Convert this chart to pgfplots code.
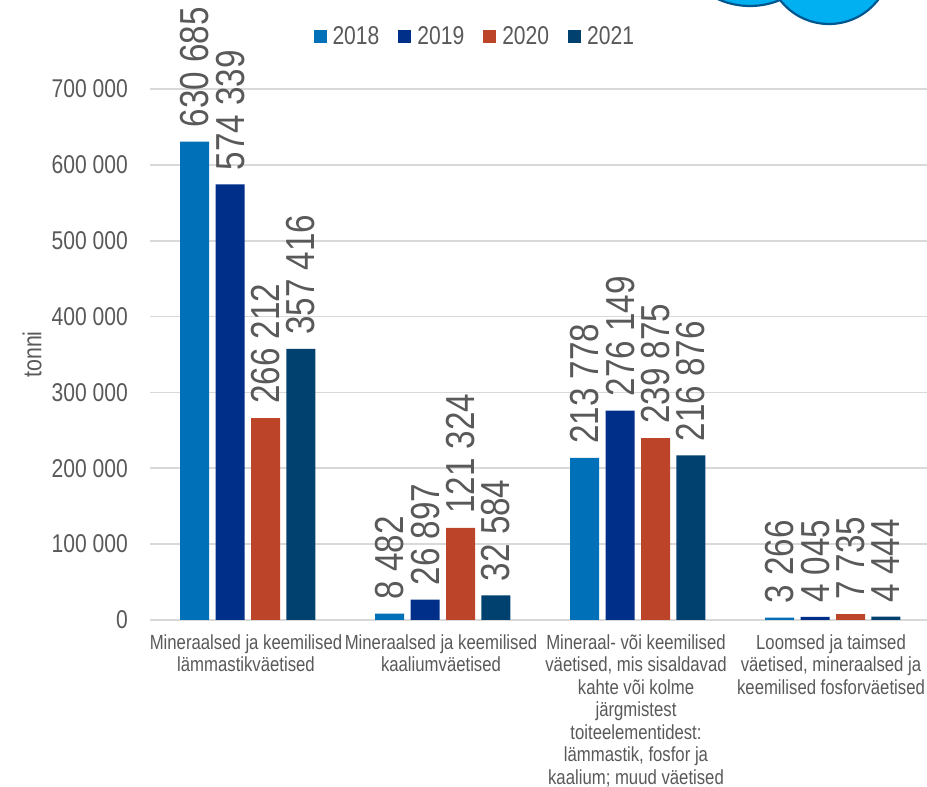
\documentclass[border=0pt]{standalone}
\usepackage{fontspec}
\setmainfont{Liberation Sans}[FakeStretch=0.82]
\usepackage{pgfplots}
\pgfplotsset{compat=1.18}
\definecolor{cA}{HTML}{0070B8}
\definecolor{cB}{HTML}{002F8A}
\definecolor{cC}{HTML}{BC4428}
\definecolor{cD}{HTML}{00416F}
\definecolor{txt}{HTML}{595959}
\definecolor{grd}{HTML}{D9D9D9}
\definecolor{circ}{HTML}{00B0F0}
\definecolor{circe}{HTML}{00568F}
\begin{document}
\begin{tikzpicture}[x=1pt,y=1pt]
\useasboundingbox (0,0) rectangle (927,787);
\clip (0,0) rectangle (927,787);
\draw[line width=2.2pt,draw=circe,fill=circ] (750,859) circle (78);
\draw[line width=2.2pt,draw=circe,fill=circ] (829,825) circle (62);
\begin{axis}[
  at={(150.3pt,167pt)}, anchor=south west,
  scale only axis, width=780pt, height=531pt,
  xmin=-0.5, xmax=3.5, ymin=0, ymax=700000,
  clip=false,
  scaled y ticks=false,
  ybar=6.4pt, bar width=29pt,
  axis line style={draw=none},
  axis x line*=bottom,
  axis y line*=left,
  major tick length=0pt,
  ymajorgrids, grid style={draw=grd,line width=1.6pt},
  ytick={0,100000,200000,300000,400000,500000,600000,700000},
  yticklabels={0,100 000,200 000,300 000,400 000,500 000,600 000,700 000},
  xtick={0,1,2,3},
  xticklabels={
    {Mineraalsed ja keemilised\\lämmastikväetised},
    {Mineraalsed ja keemilised\\kaaliumväetised},
    {Mineraal- või keemilised\\väetised, mis sisaldavad\\kahte või kolme\\järgmistest\\toiteelementidest:\\lämmastik, fosfor ja\\kaalium; muud väetised},
    {Loomsed ja taimsed\\väetised, mineraalsed ja\\keemilised fosforväetised}},
  x tick label style={align=center,font=\fontsize{20.4}{22.5}\selectfont,text=txt,anchor=north,yshift=-11pt,xshift=-1.8pt},
  y tick label style={font=\fontsize{25.7}{30}\selectfont,text=txt,anchor=east,xshift=-19pt},
  ylabel={tonni},
  ylabel style={font=\fontsize{26}{30}\selectfont,text=txt,at={(axis description cs:-0.1516,0.5)},anchor=center},
  point meta=explicit symbolic,
  nodes near coords,
  every node near coord/.append style={rotate=90,anchor=west,font=\fontsize{40.5}{44}\selectfont,text=txt,inner xsep=14pt},
  legend columns=4,
  legend style={draw=none,fill=none,at={(axis description cs:0.416,1.0998)},anchor=center,
    font=\fontsize{25.7}{30}\selectfont,text=txt,
    /tikz/every even column/.append style={column sep=17pt},
    /tikz/every odd column/.append style={column sep=4pt}},
  legend image code/.code={\fill[#1] (0pt,-6.5pt) rectangle (13pt,6.5pt);},
]
\addplot[fill=cA,draw=none] coordinates {(0,630685)[630 685] (1,8482)[8 482] (2,213778)[213 778] (3,3266)[3 266]};
\addplot[fill=cB,draw=none] coordinates {(0,574339)[574 339] (1,26897)[26 897] (2,276149)[276 149] (3,4045)[4 045]};
\addplot[fill=cC,draw=none] coordinates {(0,266212)[266 212] (1,121324)[121 324] (2,239875)[239 875] (3,7735)[7 735]};
\addplot[fill=cD,draw=none] coordinates {(0,357416)[357 416] (1,32584)[32 584] (2,216876)[216 876] (3,4444)[4 444]};
\legend{2018,2019,2020,2021}
\end{axis}
\end{tikzpicture}
\end{document}
